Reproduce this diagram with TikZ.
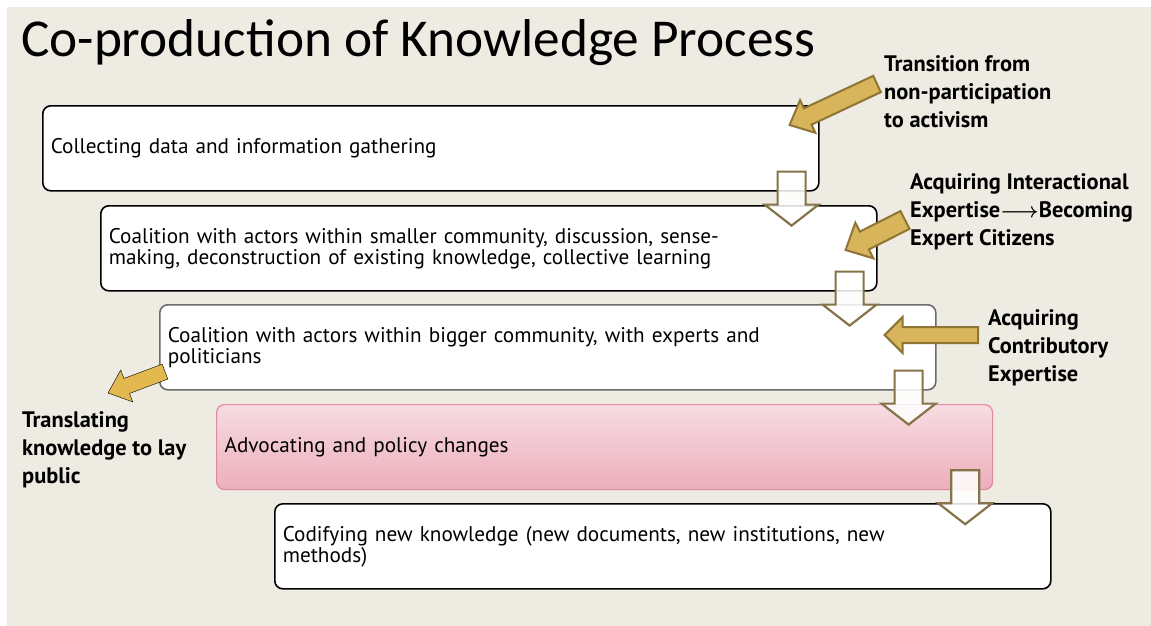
\documentclass[tikz,border=0pt]{standalone}
\usepackage{fontspec}
\setmainfont{PT Sans}
\newfontfamily\titlefam{Carlito}
\usepackage{xcolor}
\usetikzlibrary{calc}

\definecolor{paper}{HTML}{EEEBE3}
\definecolor{goldfill}{HTML}{D8B45A}
\definecolor{goldline}{HTML}{8F7535}
\definecolor{goldsoft}{HTML}{E2B84F}
\definecolor{olivebrown}{HTML}{857349}
\definecolor{pinktop}{HTML}{F7DCE2}
\definecolor{pinkbot}{HTML}{ECAEBC}
\definecolor{pinkline}{HTML}{E08C9E}

% fat arrow: style, tail, tip, half shaft, half head, head length
\newcommand{\goldarrow}[6]{%
  \path #2 coordinate (ga-a) #3 coordinate (ga-b);
  \path ($(ga-b)!#6!(ga-a)$) coordinate (ga-h);
  \draw[#1] ($(ga-a)!#4!90:(ga-b)$) -- ($(ga-h)!#4!90:(ga-b)$) -- ($(ga-h)!#5!90:(ga-b)$)
    -- (ga-b) -- ($(ga-h)!#5!-90:(ga-b)$) -- ($(ga-h)!#4!-90:(ga-b)$) -- ($(ga-a)!#4!-90:(ga-b)$) -- cycle;
}

\begin{document}
\begin{tikzpicture}[x=1pt,y=-1pt,
    stage/.style={draw, rounded corners=8pt, line width=1.6pt, fill=white, anchor=north west,
      minimum width=776pt, minimum height=85pt, text width=760pt, inner xsep=8pt, inner ysep=0pt,
      align=left, font=\fontsize{21.2}{21}\selectfont},
    note/.style={anchor=west, inner sep=0pt, align=left, font=\fontsize{22.4}{28}\selectfont\bfseries},
    hollow/.style={draw=olivebrown, fill=white, fill opacity=0.85, line width=2.2pt, line join=miter},
    goldy/.style={draw=goldline, fill=goldfill, line width=2pt},
    goldsoftly/.style={fill=goldsoft}]
        \fill[white] (0,0) rectangle (1151,626);
        \fill[paper] (7,7) rectangle (1151,626);
        \node[anchor=base west, inner sep=0pt, font=\titlefam\fontsize{53.3}{56}\selectfont] (title) at (21,57) {Co-production of Knowledge Process};

        \node[stage] (collect) at (42,105) {Collecting data and information gathering};
        \node[stage] (small) at (100,205) {Coalition with actors within smaller community, discussion, sense-\\making, deconstruction of existing knowledge, collective learning};
        \node[stage, draw=gray!85!black] (big) at (159,304) {Coalition with actors within bigger community, with experts and\\politicians};
        \node[stage, draw=pinkline, line width=1.2pt, top color=pinktop, bottom color=pinkbot] (advocate) at (216,404) {Advocating and policy changes};
        \node[stage] (codify) at (274,503) {Codifying new knowledge (new documents, new institutions, new\\methods)};

        \foreach \up in {collect,small,big,advocate}{
            \draw[hollow] ($(\up.south east)+(-42,-20)$) -- ++(28,0) -- ++(0,33) -- ++(13,0) -- ++(-27,21) -- ++(-27,-21) -- ++(13,0) -- cycle;
        }

        \node[note] (transit) at (884,92) {Transition from\\non-participation\\to activism};
        \node[note] (interact) at (910,212) {Acquiring Interactional\\Expertise\mbox{\boldmath$\longrightarrow$}Becoming\\Expert Citizens};
        \node[note] (contrib) at (988,348) {Acquiring\\Contributory\\Expertise};
        \node[note] (translate) at (22,450) {Translating\\knowledge to lay\\public};

        \goldarrow{goldy}{($(transit.west)+(-7,-8)$)}{($(collect.north east)+(-30,20)$)}{9pt}{18pt}{20pt}
        \goldarrow{goldy}{($(interact.west)+(-5,8)$)}{($(small.north east)+(-32,45)$)}{10pt}{20pt}{21pt}
        \goldarrow{goldy}{($(contrib.west)+(-10,-13)$)}{($(big.north east)+(-52,31)$)}{8pt}{18pt}{18pt}
        \goldarrow{goldsoftly}{($(big.south west)+(6,-19)$)}{($(translate.west)+(86,-57)$)}{8pt}{17pt}{20pt}
\end{tikzpicture}
\end{document}
